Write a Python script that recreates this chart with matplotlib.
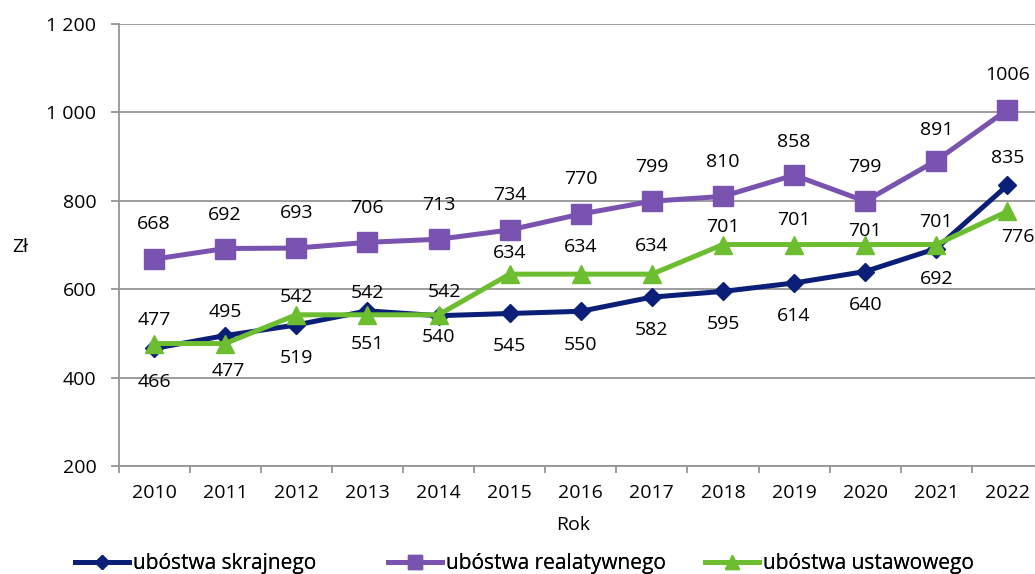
import matplotlib
matplotlib.use('Agg')
import matplotlib.pyplot as plt
from matplotlib.ticker import FuncFormatter, MultipleLocator
from matplotlib.lines import Line2D

plt.rcParams['font.family'] = ['Open Sans', 'DejaVu Sans']

# data
years = ['2010', '2011', '2012', '2013', '2014', '2015', '2016',
         '2017', '2018', '2019', '2020', '2021', '2022']
skrajnego = [466, 495, 519, 551, 540, 545, 550, 582, 595, 614, 640, 692, 835]
relatywnego = [668, 692, 693, 706, 713, 734, 770, 799, 810, 858, 799, 891, 1006]
ustawowego = [477, 477, 542, 542, 542, 634, 634, 634, 701, 701, 701, 701, 776]
names = ['ubóstwa skrajnego', 'ubóstwa realatywnego', 'ubóstwa ustawowego']

# label offsets in pixels (dx, dy) - hand placed like the original
off_skr = [(0, -34), (0, 24), (0, -33), (0, -33), (0, -21), (0, -33), (0, -34),
           (0, -33), (0, -33), (0, -33), (0, -33), (0, -30), (0, 27)]
off_rel = [(0, 35), (0, 34), (0, 35), (0, 34), (0, 34), (0, 35), (0, 35),
           (0, 34), (0, 34), (0, 33), (0, 34), (0, 31), (0, 35)]
off_ust = [(0, 24), (3, -27), (0, 18), (0, 22), (6, 23), (0, 21), (0, 27),
           (0, 28), (0, 18), (0, 25), (0, 14), (0, 23), (10, -26)]

navy = '#0b1e78'
purple = '#7a53b0'
green = '#6cbe30'
grid_c = '#959595'

fig = plt.figure(figsize=(10.35, 5.74), dpi=100)
ax = fig.add_axes([0.1145, 0.1882, 0.8932, 0.7700])

x = list(range(len(years)))
series = [
    (skrajnego, navy, 'D', 9.5, off_skr),
    (relatywnego, purple, 's', 14, off_rel),
    (ustawowego, green, '^', 13, off_ust),
]
for (vals, col, mk, ms, offs), name in zip(series, names):
    ax.plot(x, vals, color=col, lw=3.6, marker=mk, markersize=ms,
            markerfacecolor=col, markeredgecolor=col, label=name,
            solid_joinstyle='miter', clip_on=False, zorder=3)
    for xi, v, (dx, dy) in zip(x, vals, offs):
        ax.annotate(str(v), (xi, v), xytext=(dx, dy), textcoords='offset pixels',
                    ha='center', va='center', fontsize=14, color='black',
                    annotation_clip=False, zorder=4)

ax.set_xlim(-0.5, len(years) - 0.5)
ax.set_ylim(200, 1200)
ax.yaxis.set_major_locator(MultipleLocator(200))
ax.yaxis.set_major_formatter(FuncFormatter(lambda v, p: f'{int(v):,}'.replace(',', ' ')))
ax.grid(axis='y', color=grid_c, lw=1.3, zorder=0)

ax.set_xticks(x)
ax.set_xticklabels(years)
ax.set_xticks([i - 0.5 for i in range(len(years) + 1)], minor=True)
ax.tick_params(axis='x', which='major', length=0, pad=13, labelsize=14)
ax.tick_params(axis='x', which='minor', length=5, width=1.3, color=grid_c)
ax.tick_params(axis='y', length=6, width=1.3, color=grid_c, pad=10, labelsize=14)

for s in ['top', 'right']:
    ax.spines[s].set_visible(False)
for s in ['left', 'bottom']:
    ax.spines[s].set_color(grid_c)
    ax.spines[s].set_linewidth(1.3)

fig.text(20 / 1035, 1 - 247 / 574, 'Zł', ha='center', va='center', fontsize=14)
fig.text(573 / 1035, 1 - 525 / 574, 'Rok', ha='center', va='center', fontsize=14)

# legend: one entry per legend so each sits where the original has it
leg_x = [75, 388, 705]
for (_, c, m, ms, _), name, lx in zip(series, names, leg_x):
    h = Line2D([], [], color=c, lw=3.6, marker=m, markersize=ms * 0.75,
               markerfacecolor=c, markeredgecolor=c)
    lg = fig.legend([h], [name], loc='center left',
                    bbox_to_anchor=(lx / 1035, 1 - 564 / 574),
                    frameon=False, fontsize=15, handlelength=2.6,
                    handletextpad=0.2, borderaxespad=0, borderpad=0)
    fig.add_artist(lg)

fig.savefig('out.png', dpi=100)
